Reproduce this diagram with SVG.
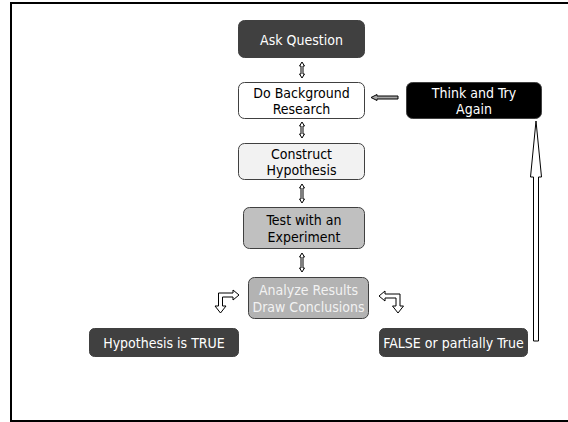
<svg xmlns="http://www.w3.org/2000/svg" width="568" height="422" viewBox="0 0 568 422">
<style>
.box{stroke:#404040;stroke-width:1}
.t{font-family:"DejaVu Sans Condensed","DejaVu Sans",sans-serif;font-size:14px;text-anchor:middle}
.w{fill:#ffffff}
.k{fill:#000000}
.arr{fill:#ffffff;stroke:#000000;stroke-width:1;stroke-linejoin:miter}
</style>
<rect x="0" y="0" width="568" height="422" fill="#ffffff"/>
<rect x="11" y="3" width="580" height="418" fill="none" stroke="#000000" stroke-width="2"/>
<g id="ask">
<rect class="box" x="238.5" y="20.5" width="126" height="37" rx="6" fill="#404040"/>
<text class="t w" x="301.5" y="44.5">Ask Question</text>
</g>
<g id="research">
<rect class="box" x="238.5" y="82.5" width="126" height="36" rx="6" fill="#ffffff"/>
<text class="t k" x="301.5" y="97.5">Do Background</text>
<text class="t k" x="301.5" y="114">Research</text>
</g>
<g id="think">
<rect class="box" x="406.5" y="82.5" width="135" height="36" rx="6" fill="#000000"/>
<text class="t w" x="474" y="97.5">Think and Try</text>
<text class="t w" x="474" y="114">Again</text>
</g>
<g id="hypothesis">
<rect class="box" x="238.5" y="143.5" width="126" height="36" rx="6" fill="#f2f2f2"/>
<text class="t k" x="301.5" y="158.5">Construct</text>
<text class="t k" x="301.5" y="175">Hypothesis</text>
</g>
<g id="experiment">
<rect class="box" x="243.5" y="207.5" width="121" height="41" rx="6" fill="#c0c0c0"/>
<text class="t k" x="304" y="224.5">Test with an</text>
<text class="t k" x="304" y="242">Experiment</text>
</g>
<g id="analyze">
<rect class="box" x="248.5" y="277.5" width="120" height="41" rx="6" fill="#b3b3b3"/>
<text class="t" fill="#f2f2f2" x="308.5" y="294.5">Analyze Results</text>
<text class="t" fill="#f2f2f2" x="308.5" y="312">Draw Conclusions</text>
</g>
<g id="true">
<rect class="box" x="89.5" y="328.5" width="149" height="28" rx="5" fill="#404040"/>
<text class="t w" x="164" y="347.5">Hypothesis is TRUE</text>
</g>
<g id="false">
<rect class="box" x="379.5" y="328.5" width="148" height="28" rx="5" fill="#404040"/>
<text class="t w" x="453.5" y="347.5">FALSE or partially True</text>
</g>
<g id="connectors">
<path class="arr" d="M302 62 L304.5 66 L303 66 L303 74 L304.5 74 L302 78 L299.5 74 L301 74 L301 66 L299.5 66 Z"/>
<path class="arr" d="M302 122 L304.5 126 L303 126 L303 134 L304.5 134 L302 138 L299.5 134 L301 134 L301 126 L299.5 126 Z"/>
<path class="arr" d="M302 184 L304.5 188 L303 188 L303 199 L304.5 199 L302 203 L299.5 199 L301 199 L301 188 L299.5 188 Z"/>
<path class="arr" d="M302 253 L304.5 257 L303 257 L303 268 L304.5 268 L302 272 L299.5 268 L301 268 L301 257 L299.5 257 Z"/>
<path d="M371 97.5 L377 94.5 L377 96 L398 96 L398 99 L377 99 L377 100.5 Z" fill="#a6a6a6" stroke="#000000" stroke-width="1"/>
<path class="arr" d="M536 121 L541.5 177 L538.5 177 L538.5 341 L533.5 341 L533.5 177 L530.5 177 Z"/>
<path class="arr" d="M239 295 L233 290 L233 293 L218.5 293 L218.5 306 L215 306 L220.5 313 L226 306 L222.5 306 L222.5 297 L233 297 L233 300 Z"/>
<path class="arr" d="M379 296 L385 291 L385 294 L400 294 L400 306 L403.5 306 L398 313 L392.5 306 L396 306 L396 298 L385 298 L385 301 Z"/>
</g>
</svg>
